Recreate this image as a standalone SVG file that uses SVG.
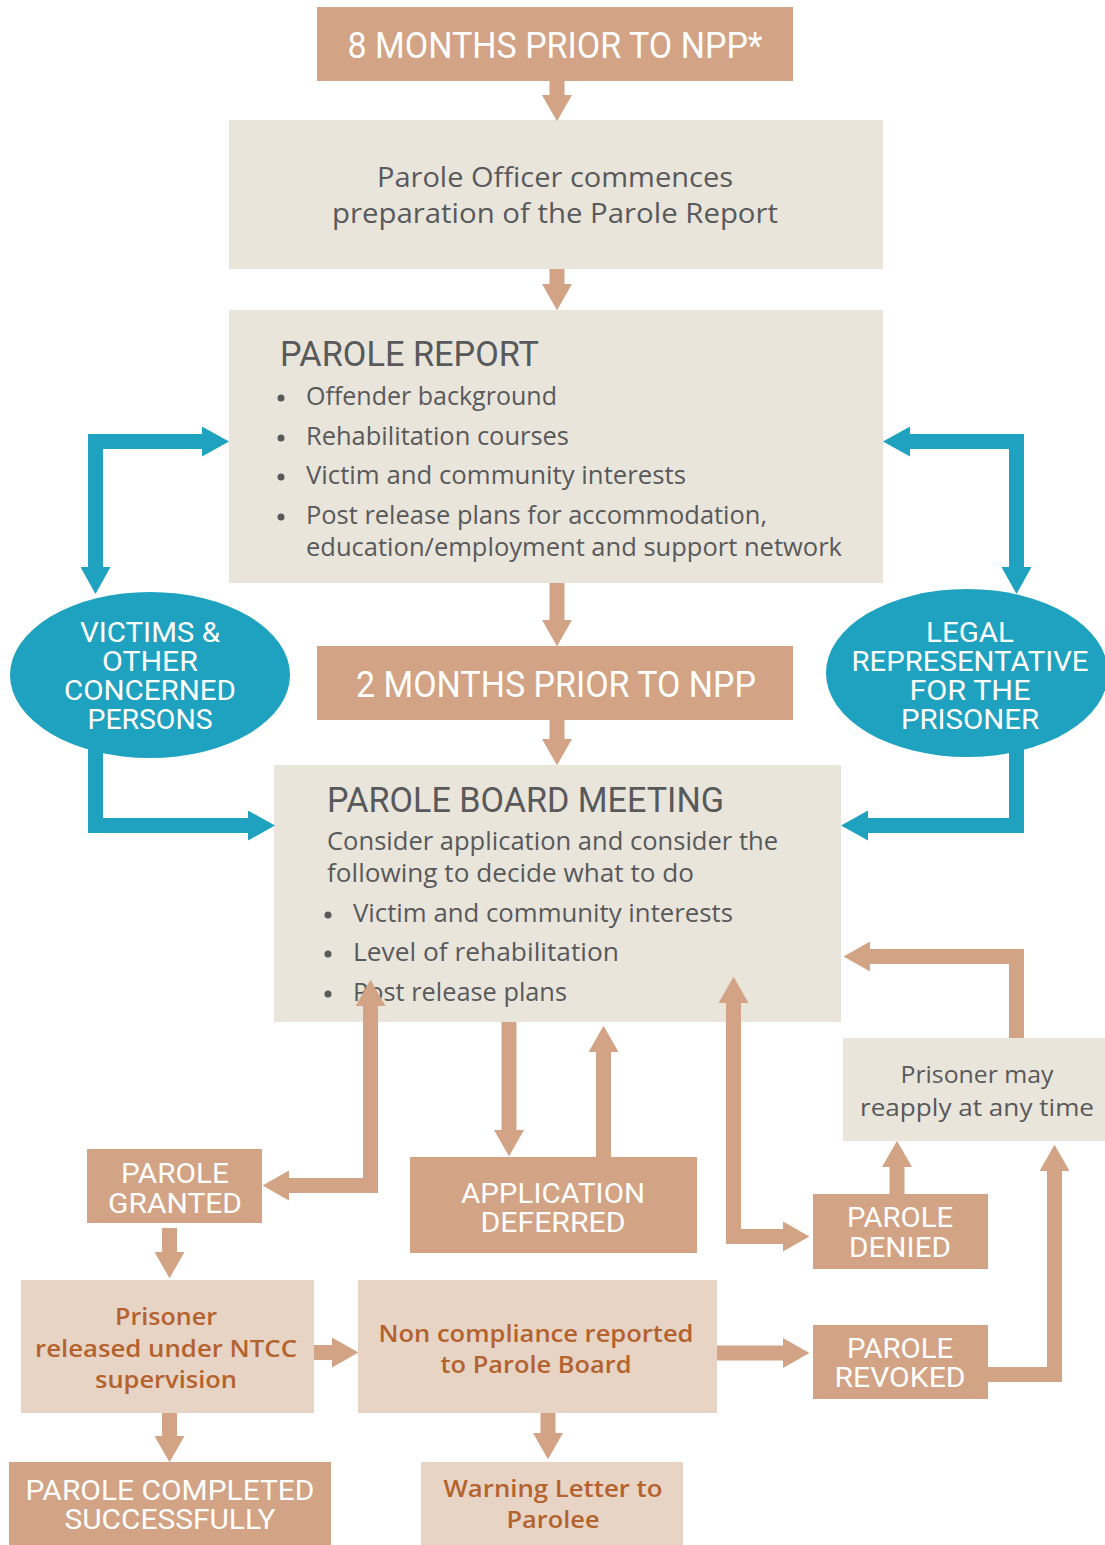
<svg xmlns="http://www.w3.org/2000/svg" width="1105" height="1545" viewBox="0 0 1105 1545">
  <style>
    .stage { fill: #D2A384; }
    .panel { fill: #E9E5DB; }
    .soft { fill: #E8D4C5; }
    .party { fill: #1EA2C0; }
    .cap { font-family: Roboto, "Liberation Sans", sans-serif; fill: #FFFFFF; text-anchor: middle; }
    .lbl { font-size: 28px; }
    .head { font-family: Roboto, "Liberation Sans", sans-serif; fill: #58595B; font-size: 35px; }
    .body { font-family: "Open Sans", "Liberation Sans", sans-serif; fill: #58595B; }
    .note { font-family: "Open Sans", "Liberation Sans", sans-serif; fill: #B4632F; font-weight: 600; text-anchor: middle; font-size: 24px; }
    .dot { fill: #58595B; }
    .blue { fill: none; stroke: #1EA2C0; stroke-width: 15; stroke-linejoin: miter; }
    .tan { fill: none; stroke: #D2A384; stroke-width: 15; stroke-linejoin: miter; }
  </style>
  <defs>
    <marker id="headBlue" viewBox="0 0 1.8 2" refX="0" refY="1" markerWidth="1.8" markerHeight="2" orient="auto-start-reverse" markerUnits="strokeWidth">
      <path d="M0,0 L1.8,1 L0,2 Z" fill="#1EA2C0"/>
    </marker>
    <marker id="headTan" viewBox="0 0 1.75 2" refX="0" refY="1" markerWidth="1.75" markerHeight="2" orient="auto-start-reverse" markerUnits="strokeWidth">
      <path d="M0,0 L1.75,1 L0,2 Z" fill="#D2A384"/>
    </marker>
  </defs>

  <rect width="1105" height="1545" fill="#FFFFFF"/>

  <!-- timeline stage: 8 months -->
  <g id="stage-8-months">
    <rect class="stage" x="317" y="7" width="476" height="74"/>
    <text class="cap" x="555" y="58" font-size="37" textLength="415" lengthAdjust="spacingAndGlyphs">8 MONTHS PRIOR TO NPP*</text>
  </g>

  <g id="officer-commences">
    <rect class="panel" x="229" y="120" width="654" height="149"/>
    <text class="body" x="555" y="187" font-size="28" text-anchor="middle" textLength="356" lengthAdjust="spacingAndGlyphs">Parole Officer commences</text>
    <text class="body" x="555" y="223" font-size="28" text-anchor="middle" textLength="446" lengthAdjust="spacingAndGlyphs">preparation of the Parole Report</text>
  </g>

  <g id="parole-report">
    <rect class="panel" x="229" y="310" width="654" height="273"/>
    <text class="head" x="280" y="366" textLength="259" lengthAdjust="spacingAndGlyphs">PAROLE REPORT</text>
    <circle class="dot" cx="281" cy="398" r="3.5"/>
    <circle class="dot" cx="281" cy="438" r="3.5"/>
    <circle class="dot" cx="281" cy="477" r="3.5"/>
    <circle class="dot" cx="281" cy="517" r="3.5"/>
    <text class="body" x="306" y="405" font-size="26" textLength="251" lengthAdjust="spacingAndGlyphs">Offender background</text>
    <text class="body" x="306" y="445" font-size="26" textLength="263" lengthAdjust="spacingAndGlyphs">Rehabilitation courses</text>
    <text class="body" x="306" y="484" font-size="26" textLength="380" lengthAdjust="spacingAndGlyphs">Victim and community interests</text>
    <text class="body" x="306" y="524" font-size="26" textLength="461" lengthAdjust="spacingAndGlyphs">Post release plans for accommodation,</text>
    <text class="body" x="306" y="556" font-size="26" textLength="536" lengthAdjust="spacingAndGlyphs">education/employment and support network</text>
  </g>

  <!-- timeline stage: 2 months -->
  <g id="stage-2-months">
    <rect class="stage" x="317" y="646" width="476" height="74"/>
    <text class="cap" x="556" y="697" font-size="37" textLength="400" lengthAdjust="spacingAndGlyphs">2 MONTHS PRIOR TO NPP</text>
  </g>

  <g id="board-meeting">
    <rect class="panel" x="274" y="765" width="567" height="257"/>
    <text class="head" x="327" y="812" textLength="397" lengthAdjust="spacingAndGlyphs">PAROLE BOARD MEETING</text>
    <text class="body" x="327" y="850" font-size="26" textLength="451" lengthAdjust="spacingAndGlyphs">Consider application and consider the</text>
    <text class="body" x="327" y="882" font-size="26" textLength="367" lengthAdjust="spacingAndGlyphs">following to decide what to do</text>
    <circle class="dot" cx="328" cy="915" r="3.5"/>
    <circle class="dot" cx="328" cy="954" r="3.5"/>
    <circle class="dot" cx="328" cy="994" r="3.5"/>
    <text class="body" x="353" y="922" font-size="26" textLength="380" lengthAdjust="spacingAndGlyphs">Victim and community interests</text>
    <text class="body" x="353" y="961" font-size="26" textLength="266" lengthAdjust="spacingAndGlyphs">Level of rehabilitation</text>
    <text class="body" x="353" y="1001" font-size="26" textLength="214" lengthAdjust="spacingAndGlyphs">Post release plans</text>
  </g>

  <!-- parties consulted for the report and the meeting -->
  <g id="victims">
    <ellipse class="party" cx="150" cy="675" rx="140" ry="83"/>
    <text class="cap lbl" x="150" y="642" textLength="140" lengthAdjust="spacingAndGlyphs">VICTIMS &amp;</text>
    <text class="cap lbl" x="150" y="671" textLength="96" lengthAdjust="spacingAndGlyphs">OTHER</text>
    <text class="cap lbl" x="150" y="700" textLength="172" lengthAdjust="spacingAndGlyphs">CONCERNED</text>
    <text class="cap lbl" x="150" y="729" textLength="125" lengthAdjust="spacingAndGlyphs">PERSONS</text>
  </g>

  <g id="legal-representative">
    <ellipse class="party" cx="967" cy="673" rx="141" ry="84"/>
    <text class="cap lbl" x="970" y="642" textLength="88" lengthAdjust="spacingAndGlyphs">LEGAL</text>
    <text class="cap lbl" x="970" y="671" textLength="237" lengthAdjust="spacingAndGlyphs">REPRESENTATIVE</text>
    <text class="cap lbl" x="970" y="700" textLength="121" lengthAdjust="spacingAndGlyphs">FOR THE</text>
    <text class="cap lbl" x="970" y="729" textLength="138" lengthAdjust="spacingAndGlyphs">PRISONER</text>
  </g>

  <!-- outcomes -->
  <g id="parole-granted">
    <rect class="stage" x="87" y="1149" width="175" height="74"/>
    <text class="cap lbl" x="175" y="1183" textLength="108" lengthAdjust="spacingAndGlyphs">PAROLE</text>
    <text class="cap lbl" x="175" y="1213" textLength="134" lengthAdjust="spacingAndGlyphs">GRANTED</text>
  </g>

  <g id="application-deferred">
    <rect class="stage" x="410" y="1157" width="287" height="96"/>
    <text class="cap lbl" x="553" y="1203" textLength="184" lengthAdjust="spacingAndGlyphs">APPLICATION</text>
    <text class="cap lbl" x="553" y="1232" textLength="145" lengthAdjust="spacingAndGlyphs">DEFERRED</text>
  </g>

  <g id="parole-denied">
    <rect class="stage" x="813" y="1194" width="175" height="75"/>
    <text class="cap lbl" x="900" y="1227" textLength="106" lengthAdjust="spacingAndGlyphs">PAROLE</text>
    <text class="cap lbl" x="900" y="1257" textLength="102" lengthAdjust="spacingAndGlyphs">DENIED</text>
  </g>

  <g id="reapply">
    <rect class="panel" x="843" y="1038" width="262" height="103"/>
    <text class="body" x="977" y="1083" font-size="24" text-anchor="middle" textLength="153" lengthAdjust="spacingAndGlyphs">Prisoner may</text>
    <text class="body" x="977" y="1116" font-size="24" text-anchor="middle" textLength="234" lengthAdjust="spacingAndGlyphs">reapply at any time</text>
  </g>

  <g id="released">
    <rect class="soft" x="21" y="1280" width="293" height="133"/>
    <text class="note" x="166" y="1325" textLength="102" lengthAdjust="spacingAndGlyphs">Prisoner</text>
    <text class="note" x="166" y="1357" textLength="262" lengthAdjust="spacingAndGlyphs">released under NTCC</text>
    <text class="note" x="166" y="1388" textLength="142" lengthAdjust="spacingAndGlyphs">supervision</text>
  </g>

  <g id="non-compliance">
    <rect class="soft" x="358" y="1280" width="359" height="133"/>
    <text class="note" x="536" y="1342" textLength="315" lengthAdjust="spacingAndGlyphs">Non compliance reported</text>
    <text class="note" x="536" y="1373" textLength="191" lengthAdjust="spacingAndGlyphs">to Parole Board</text>
  </g>

  <g id="parole-revoked">
    <rect class="stage" x="813" y="1325" width="175" height="74"/>
    <text class="cap lbl" x="900" y="1358" textLength="106" lengthAdjust="spacingAndGlyphs">PAROLE</text>
    <text class="cap lbl" x="900" y="1387" textLength="131" lengthAdjust="spacingAndGlyphs">REVOKED</text>
  </g>

  <g id="parole-completed">
    <rect class="stage" x="9" y="1462" width="322" height="83"/>
    <text class="cap lbl" x="170" y="1500" textLength="289" lengthAdjust="spacingAndGlyphs">PAROLE COMPLETED</text>
    <text class="cap lbl" x="170" y="1529" textLength="211" lengthAdjust="spacingAndGlyphs">SUCCESSFULLY</text>
  </g>

  <g id="warning-letter">
    <rect class="soft" x="421" y="1462" width="262" height="83"/>
    <text class="note" x="553" y="1497" textLength="219" lengthAdjust="spacingAndGlyphs">Warning Letter to</text>
    <text class="note" x="553" y="1528" textLength="93" lengthAdjust="spacingAndGlyphs">Parolee</text>
  </g>

  <!-- connectors: block arrows drawn as thick strokes with arrowhead markers -->
  <g id="connectors">
    <!-- consultation links -->
    <path class="blue" d="M95.5,567 V441.5 H202" marker-start="url(#headBlue)" marker-end="url(#headBlue)"/>
    <path class="blue" d="M95.5,748 V825.5 H248" marker-end="url(#headBlue)"/>
    <path class="blue" d="M1016.5,567 V441.5 H910" marker-start="url(#headBlue)" marker-end="url(#headBlue)"/>
    <path class="blue" d="M1016.5,748 V825.5 H868" marker-end="url(#headBlue)"/>

    <!-- main sequence -->
    <path class="tan" d="M557,81 V95" marker-end="url(#headTan)"/>
    <path class="tan" d="M557,269 V284" marker-end="url(#headTan)"/>
    <path class="tan" d="M557,583 V620" marker-end="url(#headTan)"/>
    <path class="tan" d="M557,720 V739" marker-end="url(#headTan)"/>

    <!-- board decisions -->
    <path class="tan" d="M370.5,1006 V1185.5 H289" marker-start="url(#headTan)" marker-end="url(#headTan)"/>
    <path class="tan" d="M509,1022 V1130" marker-end="url(#headTan)"/>
    <path class="tan" d="M603.5,1157 V1052" marker-end="url(#headTan)"/>
    <path class="tan" d="M733.5,1003 V1236.5 H783" marker-start="url(#headTan)" marker-end="url(#headTan)"/>
    <path class="tan" d="M897,1194 V1167" marker-end="url(#headTan)"/>
    <path class="tan" d="M988,1374.5 H1054.5 V1171" marker-end="url(#headTan)"/>
    <path class="tan" d="M1016.5,1038 V956.5 H870" marker-end="url(#headTan)"/>

    <!-- supervision path -->
    <path class="tan" d="M169.5,1228 V1252" marker-end="url(#headTan)"/>
    <path class="tan" d="M169.5,1413 V1436" marker-end="url(#headTan)"/>
    <path class="tan" d="M314,1352.5 H332" marker-end="url(#headTan)"/>
    <path class="tan" d="M717,1353 H783" marker-end="url(#headTan)"/>
    <path class="tan" d="M548,1413 V1433" marker-end="url(#headTan)"/>
  </g>
</svg>
